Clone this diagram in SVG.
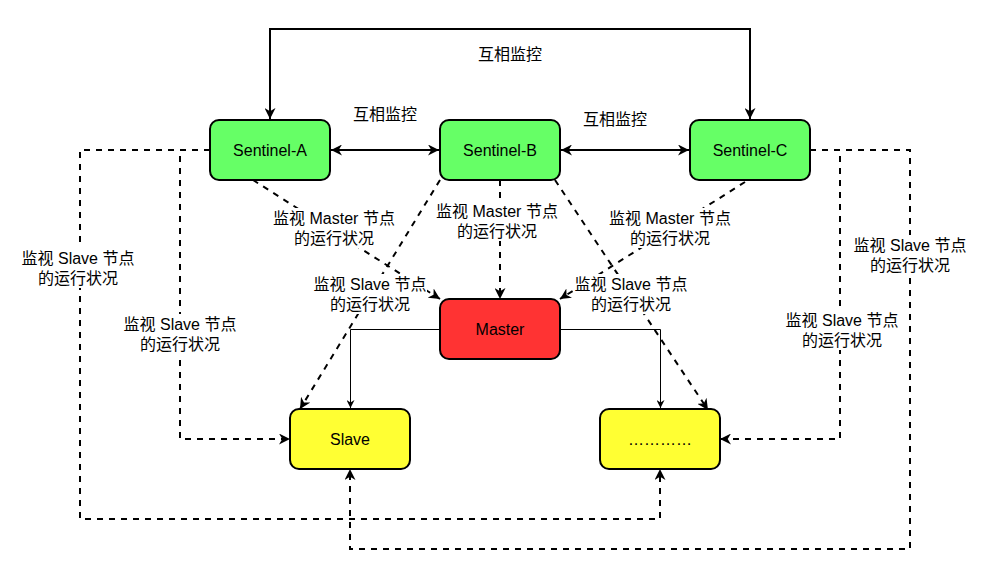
<svg xmlns="http://www.w3.org/2000/svg" width="986" height="578" viewBox="0 0 986 578">
<style>
text{font-family:"Liberation Sans","Noto Sans CJK SC",sans-serif;font-size:16px;fill:#000;text-anchor:middle;dominant-baseline:central}
.node{stroke:#000;stroke-width:2}
.s{fill:none;stroke:#000;stroke-width:2}
.d{fill:none;stroke:#000;stroke-width:2;stroke-dasharray:6 6}
.t{fill:none;stroke:#000;stroke-width:1}
.bg{fill:#fff}
</style>
<defs>
<marker id="a" viewBox="0 0 10 10" refX="10" refY="5" markerWidth="11" markerHeight="11" markerUnits="userSpaceOnUse" orient="auto-start-reverse">
<path d="M0,0 L10,5 L0,10 L3,5 Z" fill="#000"/>
</marker>
<marker id="b" viewBox="0 0 10 10" refX="10" refY="5" markerWidth="8" markerHeight="8" markerUnits="userSpaceOnUse" orient="auto-start-reverse">
<path d="M0,0 L10,5 L0,10 L3,5 Z" fill="#000"/>
</marker>
</defs>
<rect width="986" height="578" fill="#fff"/>
<g id="connectors">
<path class="s" d="M270,119 V29 H750 V119" marker-start="url(#a)" marker-end="url(#a)"/>
<path class="s" d="M331,150 H439" marker-start="url(#a)" marker-end="url(#a)"/>
<path class="s" d="M561,150 H689" marker-start="url(#a)" marker-end="url(#a)"/>
<path class="d" d="M253,180 L440,299" marker-end="url(#a)"/>
<path class="d" d="M500,180 V299" marker-end="url(#a)"/>
<path class="d" d="M745,182 L560,299" marker-end="url(#a)"/>
<path class="d" d="M440,180 L300,409" marker-end="url(#a)"/>
<path class="d" d="M555,180 L708,410" marker-end="url(#a)"/>
<path class="t" d="M440,329.5 H350.5 V408" marker-end="url(#b)"/>
<path class="t" d="M560,329.5 H660.5 V408" marker-end="url(#b)"/>
<path class="d" d="M210,150 H180 V439 H290" marker-end="url(#a)"/>
<path class="d" d="M210,150 H80 V519 H660 V469" marker-end="url(#a)"/>
<path class="d" d="M810,150 H840 V439 H720" marker-end="url(#a)"/>
<path class="d" d="M810,150 H910 V549 H350 V469" marker-end="url(#a)"/>
<g id="labels">
<rect class="bg" x="477" y="44" width="66" height="20"/><text x="510" y="54">互相监控</text>
<rect class="bg" x="352" y="104" width="66" height="20"/><text x="385" y="114">互相监控</text>
<rect class="bg" x="582" y="109" width="66" height="20"/><text x="615" y="119">互相监控</text>
<rect class="bg" x="273" y="208" width="122" height="40"/><text x="334" y="218">监视 Master 节点<tspan x="334" y="238">的运行状况</tspan></text>
<rect class="bg" x="436" y="201" width="122" height="40"/><text x="497" y="211">监视 Master 节点<tspan x="497" y="231">的运行状况</tspan></text>
<rect class="bg" x="609" y="208" width="122" height="40"/><text x="670" y="218">监视 Master 节点<tspan x="670" y="238">的运行状况</tspan></text>
<rect class="bg" x="313" y="274" width="114" height="40"/><text x="370" y="284">监视 Slave 节点<tspan x="370" y="304">的运行状况</tspan></text>
<rect class="bg" x="574" y="274" width="114" height="40"/><text x="631" y="284">监视 Slave 节点<tspan x="631" y="304">的运行状况</tspan></text>
<rect class="bg" x="123" y="314" width="114" height="40"/><text x="180" y="324">监视 Slave 节点<tspan x="180" y="344">的运行状况</tspan></text>
<rect class="bg" x="21" y="248" width="114" height="40"/><text x="78" y="258">监视 Slave 节点<tspan x="78" y="278">的运行状况</tspan></text>
<rect class="bg" x="785" y="310" width="114" height="40"/><text x="842" y="320">监视 Slave 节点<tspan x="842" y="340">的运行状况</tspan></text>
<rect class="bg" x="853" y="235" width="114" height="40"/><text x="910" y="245">监视 Slave 节点<tspan x="910" y="265">的运行状况</tspan></text>
</g>
</g>
<g id="sentinel-a"><rect class="node" x="210" y="120" width="120" height="60" rx="9" fill="#66FF66"/><text x="270" y="150">Sentinel-A</text></g>
<g id="sentinel-b"><rect class="node" x="440" y="120" width="120" height="60" rx="9" fill="#66FF66"/><text x="500" y="150">Sentinel-B</text></g>
<g id="sentinel-c"><rect class="node" x="690" y="120" width="120" height="60" rx="9" fill="#66FF66"/><text x="750" y="150">Sentinel-C</text></g>
<g id="master"><rect class="node" x="440" y="299" width="120" height="60" rx="9" fill="#FF3333"/><text x="500" y="329">Master</text></g>
<g id="slave"><rect class="node" x="290" y="409" width="120" height="60" rx="9" fill="#FFFF33"/><text x="350" y="439">Slave</text></g>
<g id="slave-more"><rect class="node" x="600" y="409" width="120" height="60" rx="9" fill="#FFFF33"/><text x="660" y="439">…………</text></g>
</svg>
